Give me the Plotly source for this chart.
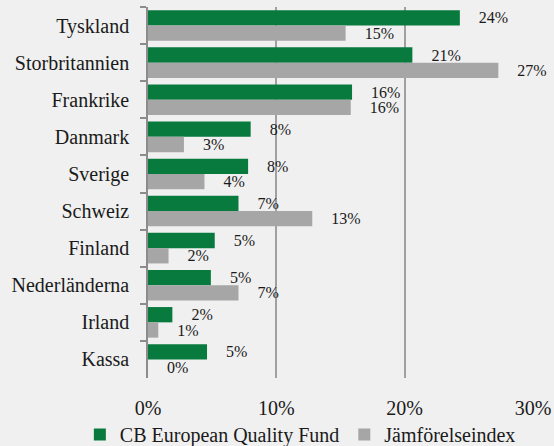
import plotly.graph_objects as go

categories = ["Tyskland", "Storbritannien", "Frankrike", "Danmark", "Sverige",
              "Schweiz", "Finland", "Nederländerna", "Irland", "Kassa"]
fund_name = "CB European Quality Fund"
index_name = "Jämförelseindex"
fund = [0.243, 0.206, 0.159, 0.080, 0.078, 0.0705, 0.052, 0.049, 0.019, 0.046]
index = [0.154, 0.273, 0.158, 0.028, 0.044, 0.128, 0.016, 0.0705, 0.008, 0.0]
x_ticks = [0, 0.1, 0.2, 0.3]

FONT = "Liberation Serif"
TXT = "#1a1a1a"
GREEN = "#087A3E"
GRAY = "#A6A6A6"
BG = "#F0F0F0"
LINE = "#8C8C8C"
pad = "\u00a0" * 4

fig = go.Figure()
fig.add_trace(go.Bar(
    y=categories, x=fund, orientation="h", name=fund_name,
    marker=dict(color=GREEN, line=dict(width=0)),
    texttemplate=pad + "%{x:.0%}", textposition="outside",
    textfont=dict(family=FONT, size=16, color=TXT),
    cliponaxis=False, constraintext="none",
))
fig.add_trace(go.Bar(
    y=categories, x=index, orientation="h", name=index_name,
    marker=dict(color=GRAY, line=dict(width=0)),
    texttemplate=pad + "%{x:.0%}", textposition="outside",
    textfont=dict(family=FONT, size=16, color=TXT),
    cliponaxis=False, constraintext="none",
))

fig.update_layout(
    width=554, height=446,
    margin=dict(l=148, r=21, t=7, b=68, autoexpand=False),
    paper_bgcolor=BG, plot_bgcolor=BG,
    barmode="group", bargap=0.175, bargroupgap=0,
    font=dict(family=FONT, color=TXT, size=20),
    showlegend=True,
    legend=dict(orientation="h", x=-0.177, xanchor="left", y=-0.152, yanchor="middle",
                font=dict(family=FONT, size=20, color=TXT),
                bgcolor="rgba(0,0,0,0)", itemwidth=30, tracegroupgap=0),
    xaxis=dict(range=[0, 0.3], tickvals=x_ticks, tickformat=".0%",
               showgrid=True, gridcolor="#A0A0A0", gridwidth=1.5,
               zeroline=False, showline=False, ticks="",
               tickfont=dict(family=FONT, size=20, color=TXT),
               ticklabelstandoff=16, automargin=False),
    yaxis=dict(type="category", autorange="reversed", tickson="boundaries",
               ticks="outside", ticklen=6, tickwidth=1.5, tickcolor=LINE,
               showline=True, linecolor=LINE, linewidth=1.5,
               showgrid=False, zeroline=False,
               tickfont=dict(family=FONT, size=20, color=TXT),
               ticklabelstandoff=13, automargin=False),
)

fig.write_html("out.html", config={"displayModeBar": False},
               post_script="document.body.style.margin='0px';")
